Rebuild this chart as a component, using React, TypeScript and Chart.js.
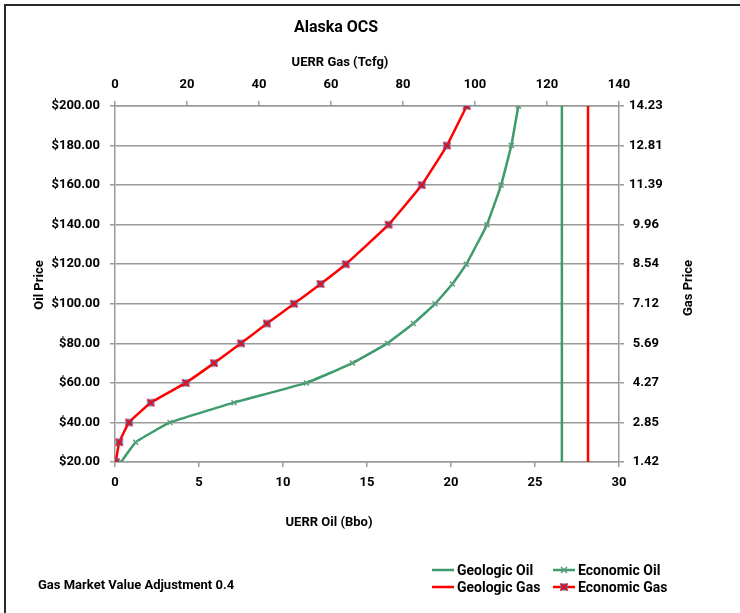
import React, { useEffect, useRef } from "react";
import { Chart, registerables } from "chart.js";

Chart.register(...registerables);

// ---- Data ----
const oilPrices = [20, 30, 40, 50, 60, 70, 80, 90, 100, 110, 120, 140, 160, 180, 200];
const economicOil = [0.36, 1.23, 3.27, 7.08, 11.39, 14.13, 16.21, 17.76, 19.05, 20.08, 20.91, 22.14, 22.98, 23.59, 24.01];
const economicGas = [0.19, 1.19, 3.89, 9.92, 19.64, 27.5, 35.0, 42.2, 49.7, 57.1, 64.1, 76.0, 85.2, 92.2, 97.7];
const geologicOil = 26.6; // Bbo
const geologicGas = 131.4; // Tcfg
const priceRange = [20, 200];
const gasPriceLabels = ["1.42", "2.85", "4.27", "5.69", "7.12", "8.54", "9.96", "11.39", "12.81", "14.23"];

const title = "Alaska OCS";
const gasAxisTitle = "UERR Gas (Tcfg)";
const oilAxisTitle = "UERR Oil (Bbo)";
const leftAxisTitle = "Oil Price";
const rightAxisTitle = "Gas Price";
const note = "Gas Market Value Adjustment 0.4";
const legendLabels = ["Geologic Oil", "Economic Oil", "Geologic Gas", "Economic Gas"];

const GREEN = "#3e9b6b";
const GREEN_MARK = "#5c9c7c";
const RED = "#ff0000";
const FONT = "Roboto, 'Open Sans', sans-serif";

function makeGasMarker(): HTMLCanvasElement {
  const c = document.createElement("canvas");
  c.width = 10;
  c.height = 10;
  const g = c.getContext("2d")!;
  g.fillStyle = "#5a5fa8";
  g.fillRect(1.5, 1.5, 7, 7);
  g.strokeStyle = RED;
  g.lineWidth = 1.6;
  g.beginPath();
  g.moveTo(1.5, 1.5);
  g.lineTo(8.5, 8.5);
  g.moveTo(8.5, 1.5);
  g.lineTo(1.5, 8.5);
  g.stroke();
  return c;
}

function drawX(ctx: CanvasRenderingContext2D, x: number, y: number, r: number, color: string) {
  ctx.save();
  ctx.strokeStyle = color;
  ctx.lineWidth = 1.5;
  ctx.beginPath();
  ctx.moveTo(x - r, y - r);
  ctx.lineTo(x + r, y + r);
  ctx.moveTo(x + r, y - r);
  ctx.lineTo(x - r, y + r);
  ctx.stroke();
  ctx.restore();
}

export default function App() {
  const ref = useRef<HTMLCanvasElement | null>(null);

  useEffect(() => {
    const canvas = ref.current!;
    const gasMarker = makeGasMarker();

    const decor = {
      id: "decor",
      beforeDraw(chart: any) {
        const ctx = chart.ctx as CanvasRenderingContext2D;
        ctx.save();
        ctx.fillStyle = "#fff";
        ctx.fillRect(0, 0, chart.width, chart.height);
        ctx.strokeStyle = "#2a2a2a";
        ctx.lineWidth = 2;
        ctx.beginPath();
        ctx.moveTo(5, chart.height);
        ctx.lineTo(5, 5);
        ctx.lineTo(chart.width, 5);
        ctx.stroke();
        ctx.restore();
      },
      afterDraw(chart: any) {
        const ctx = chart.ctx as CanvasRenderingContext2D;
        ctx.save();
        ctx.fillStyle = "#000";
        ctx.textBaseline = "middle";
        ctx.textAlign = "center";
        ctx.font = `bold 16px ${FONT}`;
        ctx.fillText(title, 336, 28);
        ctx.font = `bold 13px ${FONT}`;
        ctx.fillText(gasAxisTitle, 340, 63);
        ctx.fillText(oilAxisTitle, 329, 523);
        ctx.save();
        ctx.translate(40, 285);
        ctx.rotate(-Math.PI / 2);
        ctx.fillText(leftAxisTitle, 0, 0);
        ctx.restore();
        ctx.save();
        ctx.translate(689, 288);
        ctx.rotate(-Math.PI / 2);
        ctx.fillText(rightAxisTitle, 0, 0);
        ctx.restore();
        ctx.textAlign = "left";
        ctx.fillText(note, 38, 586);

        // legend
        ctx.font = `bold 14px ${FONT}`;
        const rows = [570, 587];
        const items = [
          { col: 0, row: 0, color: GREEN, label: legendLabels[0], mark: "" },
          { col: 1, row: 0, color: GREEN, label: legendLabels[1], mark: "x" },
          { col: 0, row: 1, color: RED, label: legendLabels[2], mark: "" },
          { col: 1, row: 1, color: RED, label: legendLabels[3], mark: "g" },
        ];
        const cols = [432, 553];
        for (const it of items) {
          const x0 = cols[it.col];
          const y = rows[it.row];
          ctx.strokeStyle = it.color;
          ctx.lineWidth = 2.5;
          ctx.beginPath();
          ctx.moveTo(x0, y);
          ctx.lineTo(x0 + 22, y);
          ctx.stroke();
          if (it.mark === "x") drawX(ctx, x0 + 11, y, 3, GREEN_MARK);
          if (it.mark === "g") ctx.drawImage(gasMarker, x0 + 6, y - 5);
          ctx.fillStyle = "#000";
          ctx.fillText(it.label, x0 + 25, y + 1);
        }
        ctx.restore();
      },
    };

    const tickFont = { family: FONT, size: 13, weight: "bold" as const };
    const gridColor = "#9a9a9a";

    const chart = new Chart(canvas, {
      type: "scatter",
      data: {
        datasets: [
          {
            label: legendLabels[0],
            data: [{ x: geologicOil, y: priceRange[0] }, { x: geologicOil, y: priceRange[1] }],
            xAxisID: "x",
            yAxisID: "y",
            showLine: true,
            borderColor: GREEN,
            borderWidth: 2.5,
            pointRadius: 0,
          },
          {
            label: legendLabels[1],
            data: oilPrices.map((p, i) => ({ x: economicOil[i], y: p })),
            xAxisID: "x",
            yAxisID: "y",
            showLine: true,
            borderColor: GREEN,
            borderWidth: 2.5,
            tension: 0.1,
            pointStyle: "crossRot",
            pointRadius: 3.5,
            pointBorderColor: GREEN_MARK,
            pointBorderWidth: 1.5,
            pointBackgroundColor: GREEN_MARK,
          },
          {
            label: legendLabels[2],
            data: [{ x: geologicGas, y: priceRange[0] }, { x: geologicGas, y: priceRange[1] }],
            xAxisID: "x2",
            yAxisID: "y",
            showLine: true,
            borderColor: RED,
            borderWidth: 2.5,
            pointRadius: 0,
          },
          {
            label: legendLabels[3],
            data: oilPrices.map((p, i) => ({ x: economicGas[i], y: p })),
            xAxisID: "x2",
            yAxisID: "y",
            showLine: true,
            borderColor: RED,
            borderWidth: 2.5,
            tension: 0.1,
            pointStyle: gasMarker as any,
            pointRadius: 4,
          },
        ],
      },
      options: {
        responsive: false,
        animation: false,
        devicePixelRatio: 1,
        layout: { padding: 0 },
        plugins: { legend: { display: false }, title: { display: false }, tooltip: { enabled: false } },
        scales: {
          x: {
            type: "linear",
            position: "bottom",
            min: 0,
            max: 30,
            ticks: { stepSize: 5, font: tickFont, color: "#000", padding: 8 },
            grid: { drawOnChartArea: false, drawTicks: true, tickLength: 5, color: gridColor, lineWidth: 1.5 },
            border: { display: true, color: gridColor, width: 1.5 },
            afterFit: (s: any) => { s.height = 613 - 462; },
          },
          x2: {
            type: "linear",
            position: "top",
            min: 0,
            max: 140,
            ticks: { stepSize: 20, font: tickFont, color: "#000", padding: 8 },
            grid: { drawOnChartArea: false, drawTicks: true, tickLength: 5, color: gridColor, lineWidth: 1.5 },
            border: { display: true, color: gridColor, width: 1.5 },
            afterFit: (s: any) => { s.height = 106; },
          },
          y: {
            type: "linear",
            position: "left",
            min: priceRange[0],
            max: priceRange[1],
            ticks: {
              stepSize: 20,
              font: tickFont,
              color: "#000",
              padding: 10,
              callback: (v: any) => "$" + Number(v).toFixed(2),
            },
            grid: { drawOnChartArea: true, drawTicks: true, tickLength: 5, color: gridColor, lineWidth: 1.5 },
            border: { display: true, color: gridColor, width: 1.5 },
            afterFit: (s: any) => { s.width = 115; },
          },
          y1: {
            type: "linear",
            position: "right",
            min: priceRange[0],
            max: priceRange[1],
            ticks: {
              stepSize: 20,
              font: tickFont,
              color: "#000",
              padding: 5,
              crossAlign: "center",
              callback: (_v: any, i: number) => gasPriceLabels[i],
            },
            grid: { drawOnChartArea: false, drawTicks: true, tickLength: 5, color: gridColor, lineWidth: 1.5 },
            border: { display: true, color: gridColor, width: 1.5 },
            afterFit: (s: any) => { s.width = 740 - 619; },
          },
        },
      },
      plugins: [decor],
    } as any);

    return () => chart.destroy();
  }, []);

  return (
    <div style={{ position: "fixed", left: 0, top: 0, width: 740, height: 613, background: "#fff" }}>
      <canvas ref={ref} width={740} height={613} style={{ display: "block" }} />
    </div>
  );
}
